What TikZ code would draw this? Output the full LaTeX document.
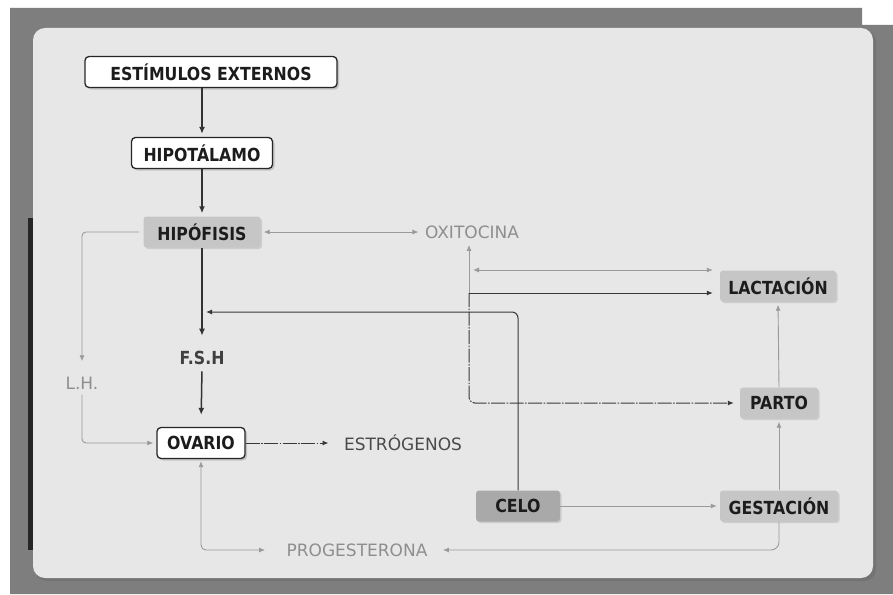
\documentclass[tikz,border=0pt]{standalone}
\usepackage{fontspec}
\setmainfont{DejaVu Sans}
\newfontfamily\boxfont{DejaVu Sans}[FakeStretch=0.875]
\usetikzlibrary{arrows.meta,shadows,calc}
\definecolor{framegray}{HTML}{7E7E7E}
\definecolor{panelgray}{HTML}{E7E7E7}
\definecolor{boxgray}{HTML}{C6C6C6}
\definecolor{celogray}{HTML}{A9A9A9}
\definecolor{lightline}{HTML}{9A9A9A}
\definecolor{lighttext}{HTML}{8E8E8E}
\definecolor{darktext}{HTML}{1C1C1C}
\definecolor{midtext}{HTML}{4A4A4A}
\tikzset{
  boxlabel/.style={font=\boxfont\bfseries\fontsize{18}{20}\selectfont, text=darktext},
  whitebox/.style={boxlabel, draw=black!85, line width=1.3pt, fill=white, rounded corners=4pt,
    minimum height=31pt, inner sep=0pt,
    drop shadow={shadow xshift=2pt, shadow yshift=-2pt, opacity=0.35}},
  graybox/.style={boxlabel, fill=boxgray, rounded corners=3pt, minimum height=31pt, inner sep=0pt,
    drop shadow={shadow xshift=1.5pt, shadow yshift=-1.5pt, opacity=0.25}},
  graytext/.style={font=\fontsize{17}{19}\selectfont, text=lighttext},
  midlabel/.style={font=\fontsize{17}{19}\selectfont, text=midtext},
  fshlabel/.style={font=\boxfont\bfseries\fontsize{18}{20}\selectfont, text=black!75},
  tipA/.tip={Latex[length=7pt,width=6pt]},
  tipB/.tip={Latex[length=6pt,width=5pt]},
  darkthick/.style={draw=black!80, line width=1.5pt, -tipA},
  darkthin/.style={draw=black!78, line width=1pt, -tipB},
  darkdash/.style={draw=black!78, line width=1pt, -tipB,
    dash pattern=on 14pt off 1.5pt on 1.5pt off 1.5pt},
  grayarrow/.style={draw=lightline, line width=0.9pt, -tipB},
}
\begin{document}
\begin{tikzpicture}[x=1pt,y=-1pt]
\useasboundingbox (0,0) rectangle (893,594);
\fill[white] (0,0) rectangle (893,594);
\fill[framegray] (10,8) -- (862,8) -- (862,25) -- (893,25) -- (893,594) -- (10,594) -- cycle;
\fill[black!85] (28,218) rectangle (34,550);
\fill[black!55, rounded corners=12pt] (35,30) rectangle (876,581);
\fill[panelgray, rounded corners=12pt] (33,28) rectangle (873,578);

% nodes
\node[whitebox, minimum width=252pt] (est) at (211,72) {ESTÍMULOS EXTERNOS};
\node[whitebox, minimum width=141pt] (hipot) at (202,153) {HIPOTÁLAMO};
\node[graybox, minimum width=117pt] (hipof) at (202,232) {HIPÓFISIS};
\node[graytext] (oxi) at (472,232) {OXITOCINA};
\node[graybox, minimum width=116pt] (lact) at (778,286) {LACTACIÓN};
\node[fshlabel] (fsh) at (202,358) {F.S.H};
\node[graytext] (lh) at (82,383) {L.H.};
\node[whitebox, minimum width=88pt] (ov) at (201,443) {OVARIO};
\node[midlabel] (estr) at (403,443) {ESTRÓGENOS};
\node[graybox, minimum width=78pt] (parto) at (779,403) {PARTO};
\node[graybox, fill=celogray, minimum width=84pt] (celo) at (518,506) {CELO};
\node[graybox, minimum width=118pt] (gest) at (779,506) {GESTACIÓN};
\node[graytext] (prog) at (357,550) {PROGESTERONA};

\coordinate (fj) at (202,312);
\coordinate (oxj) at (469,293);
\coordinate (oxk) at (473,270);

% main chain
\draw[darkthick, shorten >=3pt] (est.south -| hipot.north) -- (hipot.north);
\draw[darkthick, shorten >=3pt] (hipot.south) -- (hipof.north);
\draw[darkthick, shorten >=12pt] (hipof.south) -- (fsh.north);
\draw[darkthick, shorten <=3pt, shorten >=12pt] (fsh.south) -- (ov.north);

% HIPOFISIS <-> OXITOCINA
\draw[grayarrow, tipB-tipB, shorten <=3pt, shorten >=3pt] (hipof.east) -- (oxi.west);

% L.H.
\draw[grayarrow, rounded corners=4pt, shorten <=4pt, shorten >=12pt] (hipof.west) -| (lh.north);
\draw[grayarrow, rounded corners=4pt, shorten <=2pt, shorten >=3pt] (lh.south) |- (ov.west);

% OVARIO -> ESTROGENOS
\draw[darkdash, shorten >=12pt] (ov.east) -- (estr.west);

% OVARIO <-> PROGESTERONA
\draw[grayarrow, tipB-tipB, rounded corners=5pt, shorten <=2pt, shorten >=18pt] (ov.south) |- (prog.west);

% GESTACION -> PROGESTERONA
\draw[grayarrow, rounded corners=8pt, shorten >=12pt] (gest.south) |- (prog.east);

% CELO -> GESTACION -> PARTO -> LACTACION
\draw[grayarrow, shorten >=3pt] (celo.east) -- (gest.west);
\draw[grayarrow, shorten >=3pt] (gest.north) -- (parto.south);
\draw[grayarrow, shorten >=3pt] (parto.north) -- (lact.south);

% CELO -> F.S.H line
\draw[darkthin, rounded corners=6pt, shorten >=4pt] (celo.north) |- (fj);

% OXITOCINA connections
\draw[grayarrow, shorten >=3pt] (oxj) -- (oxj |- oxi.south);
\draw[darkthin, shorten >=7pt] (oxj) -- (oxj -| lact.west);
\draw[darkdash, rounded corners=6pt, shorten >=6pt] (oxj) |- (parto.west);
\draw[grayarrow, tipB-tipB, shorten >=7pt] (oxk) -- (oxk -| lact.west);
\end{tikzpicture}
\end{document}
